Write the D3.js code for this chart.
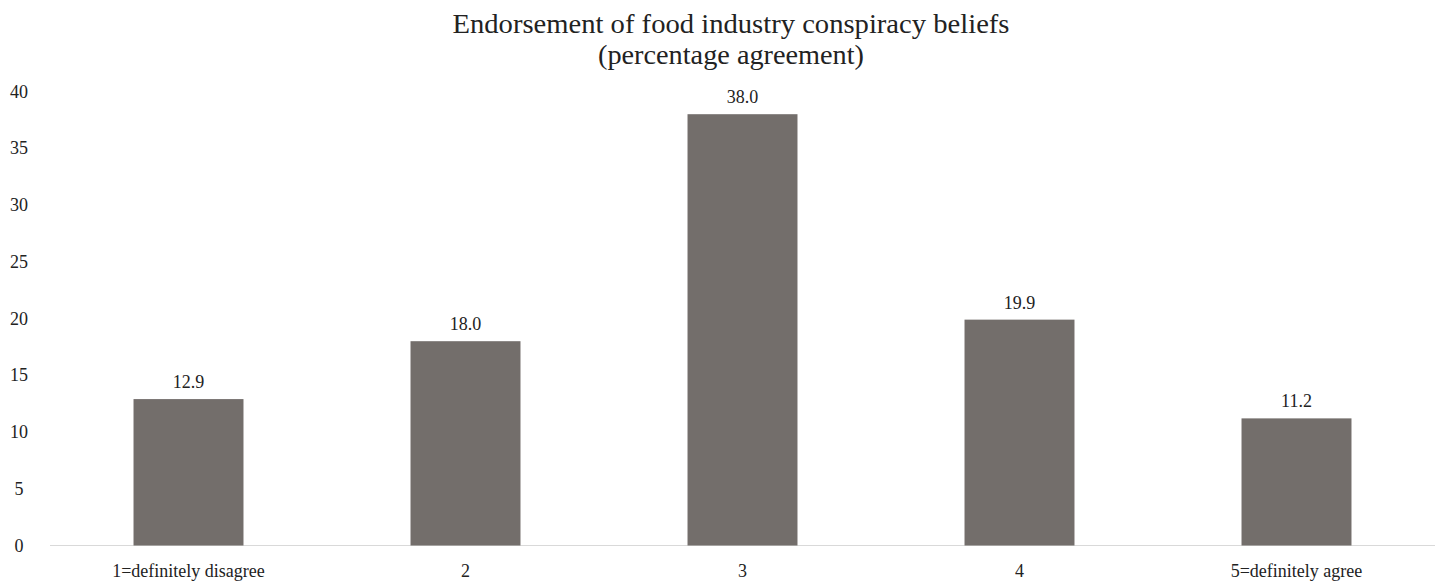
<!DOCTYPE html>
<html>
<head>
<meta charset="utf-8">
<script src="https://cdn.jsdelivr.net/npm/d3@7"></script>
<style>
  body { margin: 0; background: #fff; }
  svg text { font-family: "Liberation Serif", "Times New Roman", serif; fill: #222; }
</style>
</head>
<body>
<svg id="chartSVG"></svg>
<script>
// chart data
let categories = ['1=definitely disagree', '2', '3', '4', '5=definitely agree'];
let values = [12.9, 18.0, 38.0, 19.9, 11.2];
let yTicks = [0, 5, 10, 15, 20, 25, 30, 35, 40];
let titleLines = ['Endorsement of food industry conspiracy beliefs', '(percentage agreement)'];

let widthSVG = 1440;
let heightSVG = 584;

let SVG = d3.select('svg#chartSVG')
            .attr('width', widthSVG)
            .attr('height', heightSVG);

let x = d3.scaleBand()
          .domain(categories)
          .range([50, 1435])
          .paddingInner(0.603)
          .paddingOuter(0.3015);

let y = d3.scaleLinear()
          .domain([0, 40])
          .range([545.5, 91.5]);

// title
SVG.append('g')
   .selectAll('text')
   .data(titleLines)
   .enter()
   .append('text')
   .text(d => d)
   .attr('x', 731)
   .attr('y', (d, i) => 33 + i * 31)
   .attr('text-anchor', 'middle')
   .attr('textLength', (d, i) => i == 0 ? 557 : 266)
   .attr('lengthAdjust', 'spacingAndGlyphs')
   .style('font-size', '27px');

// y tick labels (no axis line)
SVG.append('g')
   .selectAll('text')
   .data(yTicks)
   .enter()
   .append('text')
   .text(d => d)
   .attr('x', 19)
   .attr('y', d => y(d) + 6)
   .attr('text-anchor', 'middle')
   .style('font-size', '18px');

// baseline
SVG.append('line')
   .attr('x1', 50)
   .attr('x2', 1435)
   .attr('y1', y(0))
   .attr('y2', y(0))
   .style('stroke', '#d9d9d9')
   .style('stroke-width', 1);

// bars
SVG.append('g')
   .selectAll('rect')
   .data(values)
   .enter()
   .append('rect')
   .attr('x', (d, i) => x(categories[i]))
   .attr('width', x.bandwidth())
   .attr('y', d => y(d))
   .attr('height', d => y(0) - y(d))
   .style('fill', '#736e6b');

// value labels
SVG.append('g')
   .selectAll('text')
   .data(values)
   .enter()
   .append('text')
   .text(d => d.toFixed(1))
   .attr('x', (d, i) => x(categories[i]) + x.bandwidth() / 2)
   .attr('y', d => y(d) - 11)
   .attr('text-anchor', 'middle')
   .style('font-size', '18px');

// category labels
SVG.append('g')
   .selectAll('text')
   .data(categories)
   .enter()
   .append('text')
   .text(d => d)
   .attr('x', d => x(d) + x.bandwidth() / 2)
   .attr('y', 577)
   .attr('text-anchor', 'middle')
   .style('font-size', '18px');
</script>
</body>
</html>
